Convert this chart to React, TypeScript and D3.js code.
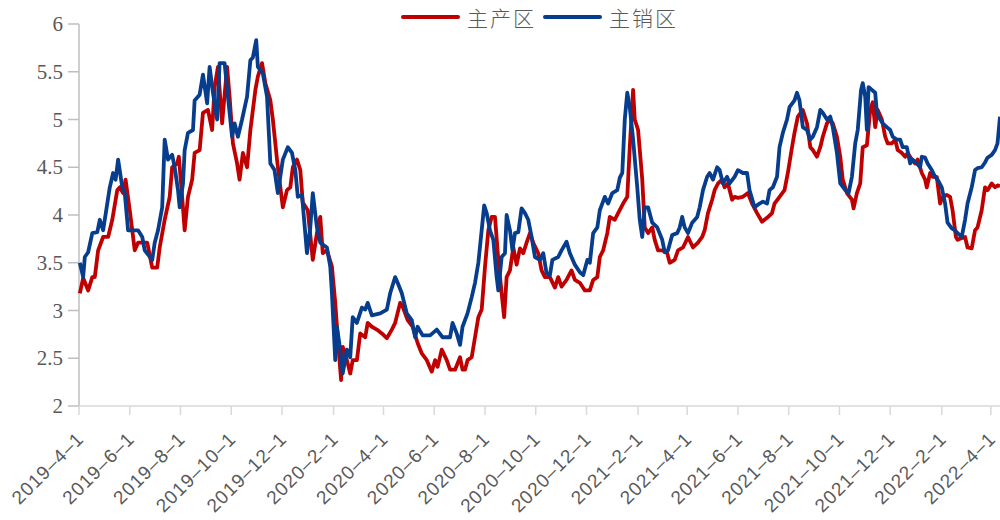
import React from 'react';
import * as d3 from 'd3';

// days are counted from 2019-04-01
const START = new Date(2019, 3, 1);
const END_DAY = 1107;

const redDays = [
  1, 5, 11, 16, 19, 23, 29, 35, 40, 46, 49, 53, 56, 61, 67, 71, 77, 82, 88, 94, 97, 103, 109, 112, 118, 120,
  124, 127, 131, 136, 139, 145, 149, 155, 160, 163, 167, 172, 178, 181, 185, 190, 193, 197, 202, 206, 212, 215,
  220, 224, 230, 233, 238, 242, 245, 250, 254, 257, 262, 266, 269, 275, 281, 286, 290, 293, 298, 304, 308, 311,
  315, 317, 322, 326, 329, 334, 338, 344, 347, 352, 358, 364, 370, 376, 380, 386, 389, 395, 401, 407, 412, 418,
  424, 428, 431, 436, 442, 446, 452, 458, 461, 464, 467, 472, 476, 480, 484, 488, 492, 496, 500, 504, 508, 511,
  514, 518, 522, 526, 530, 534, 538, 542, 546, 552, 556, 560, 566, 572, 576, 580, 586, 592, 596, 602, 608, 614,
  618, 623, 626, 630, 635, 638, 644, 648, 654, 659, 662, 666, 668, 672, 677, 680, 684, 689, 692, 696, 701, 707,
  710, 716, 720, 726, 732, 738, 744, 749, 752, 756, 761, 764, 768, 773, 776, 780, 785, 788, 792, 798, 804, 809,
  815, 821, 827, 833, 836, 842, 848, 852, 857, 860, 864, 870, 875, 879, 882, 887, 891, 894, 899, 903, 906, 911,
  915, 918, 923, 929, 931, 935, 939, 942, 947, 951, 954, 957, 960, 965, 969, 972, 977, 981, 984, 989, 993, 996,
  1001, 1005, 1008, 1013, 1017, 1019, 1023, 1026, 1031, 1035, 1038, 1043, 1047, 1050, 1054, 1056, 1061, 1065,
  1068, 1073, 1077, 1080, 1085, 1089, 1092, 1097, 1101, 1104, 1107,
];
const redValues = [
  3.18, 3.34, 3.21, 3.35, 3.35, 3.63, 3.77, 3.77, 3.95, 4.26, 4.29, 4.23, 4.37, 4.05, 3.63, 3.71, 3.71, 3.71,
  3.45, 3.45, 3.66, 3.95, 4.19, 4.5, 4.54, 4.61, 4.19, 3.84, 4.19, 4.37, 4.65, 4.68, 5.07, 5.1, 4.89, 5.34, 5.55,
  4.96, 5.55, 5.24, 4.75, 4.54, 4.37, 4.65, 4.5, 4.89, 5.31, 5.45, 5.59, 5.38, 5.2, 5.0, 4.58, 4.29, 4.08, 4.26,
  4.29, 4.5, 4.58, 4.47, 4.13, 4.05, 3.53, 3.81, 3.98, 3.6, 3.63, 3.46, 3.08, 2.72, 2.27, 2.62, 2.48, 2.34, 2.48,
  2.48, 2.76, 2.72, 2.87, 2.83, 2.8, 2.76, 2.71, 2.8, 2.87, 3.08, 3.04, 2.9, 2.83, 2.66, 2.55, 2.48, 2.36, 2.48,
  2.41, 2.59, 2.48, 2.38, 2.38, 2.51, 2.38, 2.38, 2.48, 2.51, 2.72, 2.93, 3.01, 3.46, 3.84, 3.98, 3.98, 3.53,
  3.18, 2.93, 3.35, 3.42, 3.66, 3.48, 3.65, 3.6, 3.71, 3.81, 3.71, 3.6, 3.42, 3.35, 3.35, 3.24, 3.35, 3.25, 3.32,
  3.42, 3.32, 3.29, 3.21, 3.21, 3.32, 3.35, 3.56, 3.63, 3.81, 3.98, 3.95, 4.02, 4.12, 4.19, 4.71, 5.31, 5.0, 4.89,
  4.37, 3.87, 3.81, 3.87, 3.74, 3.63, 3.63, 3.6, 3.5, 3.53, 3.63, 3.66, 3.77, 3.66, 3.71, 3.77, 3.84, 4.02, 4.16,
  4.26, 4.33, 4.37, 4.29, 4.33, 4.16, 4.19, 4.18, 4.19, 4.23, 4.12, 4.02, 3.93, 3.97, 4.02, 4.12, 4.19, 4.26,
  4.44, 4.71, 4.86, 5.03, 5.1, 4.96, 4.71, 4.68, 4.61, 4.71, 4.82, 4.96, 5.0, 4.96, 4.82, 4.61, 4.37, 4.23, 4.16,
  4.07, 4.23, 4.33, 4.71, 4.73, 5.1, 5.18, 4.92, 5.1, 5.0, 4.82, 4.75, 4.75, 4.79, 4.68, 4.65, 4.61, 4.65, 4.58,
  4.54, 4.58, 4.44, 4.37, 4.29, 4.44, 4.4, 4.4, 4.12, 4.19, 4.21, 4.19, 4.05, 3.77, 3.74, 3.76, 3.77, 3.66, 3.65,
  3.84, 3.87, 4.05, 4.29, 4.26, 4.33, 4.29, 4.31, 4.3,
];

const blueDays = [
  1, 5, 7, 11, 16, 22, 25, 29, 34, 37, 41, 44, 47, 52, 55, 59, 65, 71, 76, 79, 88, 91, 95, 100, 103, 107, 112,
  115, 119, 121, 125, 127, 131, 137, 139, 145, 149, 154, 157, 161, 166, 169, 175, 179, 184, 187, 191, 196, 202,
  206, 209, 213, 215, 221, 226, 230, 235, 239, 245, 251, 256, 260, 263, 268, 274, 278, 281, 286, 290, 298, 302,
  304, 308, 310, 314, 317, 322, 326, 329, 334, 340, 344, 347, 352, 362, 370, 374, 380, 383, 388, 394, 400, 404,
  407, 413, 422, 430, 437, 446, 449, 454, 458, 461, 467, 472, 476, 480, 484, 487, 490, 494, 498, 502, 504, 508,
  512, 514, 518, 521, 524, 528, 532, 536, 540, 544, 548, 554, 558, 562, 566, 569, 576, 580, 586, 590, 596, 602,
  606, 611, 614, 618, 623, 626, 632, 636, 641, 647, 650, 653, 656, 659, 662, 666, 671, 674, 677, 680, 684, 689,
  695, 701, 704, 708, 713, 719, 722, 725, 728, 732, 737, 743, 746, 750, 755, 758, 762, 767, 770, 774, 779, 782,
  788, 792, 798, 803, 806, 812, 818, 822, 827, 830, 834, 839, 842, 846, 851, 854, 860, 863, 866, 870, 875, 879,
  882, 887, 891, 894, 899, 903, 906, 911, 915, 921, 925, 929, 933, 936, 940, 942, 945, 947, 949, 953, 957, 959,
  963, 966, 971, 975, 978, 983, 987, 990, 995, 999, 1002, 1007, 1011, 1013, 1017, 1020, 1025, 1029, 1032, 1037,
  1041, 1044, 1049, 1053, 1056, 1061, 1065, 1068, 1073, 1077, 1080, 1085, 1089, 1092, 1097, 1101, 1104, 1107,
];
const blueValues = [
  3.5, 3.35, 3.56, 3.61, 3.81, 3.82, 3.95, 3.84, 4.12, 4.29, 4.44, 4.37, 4.58, 4.29, 4.23, 3.84, 3.84, 3.84, 3.77,
  3.63, 3.53, 3.71, 3.84, 4.08, 4.79, 4.58, 4.63, 4.5, 4.26, 4.08, 4.33, 4.68, 4.86, 4.89, 5.2, 5.26, 5.47, 5.17,
  5.55, 5.28, 5.0, 5.59, 5.59, 5.24, 4.82, 4.96, 4.82, 5.0, 5.24, 5.62, 5.65, 5.83, 5.55, 5.48, 5.24, 4.54, 4.47,
  4.23, 4.58, 4.71, 4.65, 4.47, 4.19, 4.21, 3.6, 3.87, 4.23, 3.87, 3.71, 3.66, 3.46, 3.18, 2.48, 2.83, 2.59, 2.34,
  2.59, 2.51, 2.93, 2.87, 3.03, 3.01, 3.08, 2.95, 2.97, 3.01, 3.18, 3.35, 3.29, 3.18, 2.97, 2.9, 2.72, 2.83, 2.74,
  2.74, 2.8, 2.72, 2.72, 2.87, 2.76, 2.64, 2.83, 2.97, 3.14, 3.29, 3.5, 3.84, 4.1, 4.02, 3.84, 3.74, 3.35, 3.21,
  3.56, 3.6, 4.0, 3.84, 3.63, 3.81, 3.82, 4.07, 4.02, 3.95, 3.77, 3.56, 3.53, 3.6, 3.39, 3.37, 3.53, 3.56, 3.63,
  3.72, 3.6, 3.48, 3.4, 3.37, 3.53, 3.5, 3.81, 3.87, 4.05, 4.19, 4.12, 4.23, 4.26, 4.39, 4.44, 5.0, 5.28, 5.13,
  4.79, 4.29, 3.95, 3.77, 4.08, 4.08, 3.92, 3.87, 3.74, 3.61, 3.63, 3.79, 3.81, 3.87, 3.98, 3.87, 3.81, 3.92,
  3.98, 4.08, 4.26, 4.4, 4.44, 4.37, 4.5, 4.47, 4.33, 4.4, 4.33, 4.4, 4.47, 4.44, 4.44, 4.26, 4.08, 4.12, 4.14,
  4.12, 4.26, 4.29, 4.4, 4.71, 4.86, 5.0, 5.13, 5.2, 5.28, 5.2, 4.92, 4.89, 4.79, 4.82, 4.92, 5.1, 5.07, 5.0,
  5.03, 4.92, 4.65, 4.33, 4.26, 4.23, 4.4, 4.75, 4.89, 5.31, 5.38, 5.24, 4.89, 5.34, 5.31, 5.28, 5.07, 5.0, 4.96,
  4.92, 4.89, 4.82, 4.79, 4.79, 4.71, 4.71, 4.54, 4.58, 4.54, 4.5, 4.61, 4.6, 4.54, 4.47, 4.4, 4.37, 4.29, 4.12,
  3.92, 3.86, 3.84, 3.81, 3.77, 3.95, 4.12, 4.29, 4.47, 4.49, 4.5, 4.55, 4.6, 4.63, 4.68, 4.75, 5.03,
];

const yTicks = [2, 2.5, 3, 3.5, 4, 4.5, 5, 5.5, 6];
const xTickDates = [
  '2019-4-1', '2019-6-1', '2019-8-1', '2019-10-1', '2019-12-1', '2020-2-1', '2020-4-1', '2020-6-1',
  '2020-8-1', '2020-10-1', '2020-12-1', '2021-2-1', '2021-4-1', '2021-6-1', '2021-8-1', '2021-10-1',
  '2021-12-1', '2022-2-1', '2022-4-1',
];

const seriesNames = ['主产区', '主销区'];
const seriesColors = ['#c00000', '#063d8c'];

type Pt = { date: Date; value: number };

function toPoints(days: number[], values: number[]): Pt[] {
  return days.map((d, i) => ({ date: d3.timeDay.offset(START, d), value: values[i] }));
}

const parseTick = (s: string) => {
  const [y, m, d] = s.split('-').map(Number);
  return new Date(y, m - 1, d);
};

export default function App() {
  const width = 1000;
  const height = 520;
  const left = 79;
  const right = 1000;
  const top = 24;
  const bottom = 406;

  const x = d3.scaleTime().domain([START, d3.timeDay.offset(START, END_DAY)]).range([left, right]);
  const y = d3.scaleLinear().domain([2, 6]).range([bottom, top]);

  const line = d3
    .line<Pt>()
    .x((d) => x(d.date))
    .y((d) => y(d.value));

  const series = [toPoints(redDays, redValues), toPoints(blueDays, blueValues)];

  const legendX = [403, 545];

  return (
    <svg
      width={width}
      height={height}
      style={{ position: 'absolute', left: 0, top: 0, background: '#fff' }}
    >
      {/* y axis */}
      <line x1={left} x2={left} y1={top} y2={bottom} stroke="#bfbfbf" strokeWidth={1.5} />
      {yTicks.map((t) => (
        <g key={t} transform={`translate(0,${y(t)})`}>
          <line x1={left - 11} x2={left} stroke="#bfbfbf" strokeWidth={1.5} />
          <text
            x={left - 16}
            textAnchor="end"
            dominantBaseline="central"
            fontFamily="'Liberation Serif', serif"
            fontSize={21}
            fill="#595959"
          >
            {t}
          </text>
        </g>
      ))}

      {/* x axis */}
      <line x1={left} x2={right} y1={bottom} y2={bottom} stroke="#d9d9d9" strokeWidth={1.5} />
      {xTickDates.map((s) => {
        const px = x(parseTick(s));
        return (
          <g key={s}>
            <line x1={px} x2={px} y1={bottom} y2={bottom + 9} stroke="#d9d9d9" strokeWidth={1.5} />
            <text
              transform={`translate(${px + 6},${bottom + 34}) rotate(-45)`}
              textAnchor="end"
              fontFamily="'Liberation Sans', Arial, sans-serif"
              fontSize={19}
              letterSpacing={1}
              fill="#595959"
            >
              {s.replace(/-/g, '–')}
            </text>
          </g>
        );
      })}

      {/* lines */}
      {series.map((pts, i) => (
        <path
          key={seriesNames[i]}
          d={line(pts) ?? ''}
          fill="none"
          stroke={seriesColors[i]}
          strokeWidth={3.8}
          strokeLinejoin="round"
        />
      ))}

      {/* legend */}
      {seriesNames.map((name, i) => (
        <g key={name} transform={`translate(${legendX[i]},17)`}>
          <line x1={0} x2={55} stroke={seriesColors[i]} strokeWidth={4} strokeLinecap="round" />
          <text
            x={64}
            dominantBaseline="central"
            fontFamily="'Noto Sans CJK SC', sans-serif"
            fontWeight={300}
            fontSize={21}
            letterSpacing={2}
            fill="#595959"
          >
            {name}
          </text>
        </g>
      ))}
    </svg>
  );
}
